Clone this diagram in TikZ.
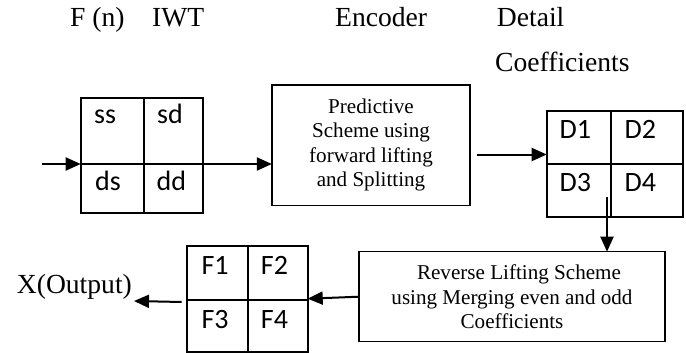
\documentclass[tikz,border=0pt]{standalone}
\usepackage{fontspec}
\setmainfont{Liberation Serif}
\newfontfamily\cellfont{Carlito}
\usetikzlibrary{arrows.meta}
\begin{document}
\begin{tikzpicture}[x=1pt,y=-1pt,
  gridbox/.style={draw,line width=1.8pt,inner sep=0pt,outer sep=0pt,anchor=north west},
  gridline/.style={line width=1.8pt},
  procbox/.style={draw,line width=1.5pt,inner sep=0pt,outer sep=0pt,align=center,
    font=\fontsize{21.1}{24.5}\selectfont},
  celltxt/.style={anchor=base west,inner sep=0pt,font=\cellfont\fontsize{28}{30}\selectfont},
  headtxt/.style={anchor=base west,inner sep=0pt,font=\fontsize{27.6}{30}\selectfont},
  arr/.style={line width=2pt,-{Triangle[length=15pt,width=13pt]}}]
\useasboundingbox (0,0) rectangle (686,353);

% headers
\node[headtxt] (hfn) at (70,27) {F (n)};
\node[headtxt] (hiwt) at (152,27) {IWT};
\node[headtxt] (henc) at (335,27) {Encoder};
\node[headtxt] (hdet) at (496.7,26.7) {Detail};
\node[headtxt] (hcoef) at (495,71.7) {Coefficients};
\node[headtxt] (xout) at (16.7,293.3) {X(Output)};

% IWT grid
\node[gridbox,minimum width=122.6pt,minimum height=115.3pt] (iwt) at (80.7,98) {};
\draw[gridline] (144,98) -- (144,213.3);
\draw[gridline] (80.7,164) -- (203.3,164);
\node[celltxt] (ss) at (94,124) {ss};
\node[celltxt] (sd) at (157,124) {sd};
\node[celltxt] (ds) at (95,190) {ds};
\node[celltxt] (dd) at (156.5,190) {dd};

% Encoder box
\node[procbox,minimum width=198.3pt,minimum height=120.3pt] (enc) at (371,145.2)
  {Predictive\\Scheme using\\forward lifting\\and Splitting};

% D grid
\node[gridbox,minimum width=136.6pt,minimum height=106.3pt] (dg) at (546.7,111) {};
\draw[gridline] (611,111) -- (611,217.3);
\draw[gridline] (546.7,164.3) -- (683.3,164.3);
\node[celltxt] (d1) at (559.5,138.3) {D1};
\node[celltxt] (d2) at (624.5,138.3) {D2};
\node[celltxt] (d3) at (559.5,191.7) {D3};
\node[celltxt] (d4) at (624.5,191.7) {D4};

% Reverse box
\node[procbox,minimum width=306pt,minimum height=90pt] (rev) at (512,296.7)
  {\hspace*{14pt}Reverse Lifting Scheme\\using Merging even and odd\\Coefficients};

% F grid
\node[gridbox,minimum width=121pt,minimum height=106pt] (fg) at (186.7,245.7) {};
\draw[gridline] (248,245.7) -- (248,351.7);
\draw[gridline] (186.7,300) -- (307.7,300);
\node[celltxt] (f1) at (201.3,274) {F1};
\node[celltxt] (f2) at (260.7,274) {F2};
\node[celltxt] (f3) at (201.3,328.3) {F3};
\node[celltxt] (f4) at (260.7,328.3) {F4};

% connectors
\coordinate (inStart) at (41.7,164);
\coordinate (iwtL) at (iwt.west |- 0,164);
\draw[arr] (inStart) -- (iwtL);
\coordinate (iwtOut) at (193,164);
\draw[arr] (iwtOut) -- (enc.west |- iwtOut);
\coordinate (encOut) at (477,154.5);
\draw[arr] (encOut) -- (dg.west |- encOut);
\coordinate (dOut) at (607,197);
\draw[arr] (dOut) -- (rev.north -| dOut);
\draw[arr] (rev.west) -- (fg.east);
\coordinate (fOut) at (181.7,302);
\coordinate (xEnd) at (134,301);
\draw[arr] (fOut) -- (xEnd);
\end{tikzpicture}
\end{document}
